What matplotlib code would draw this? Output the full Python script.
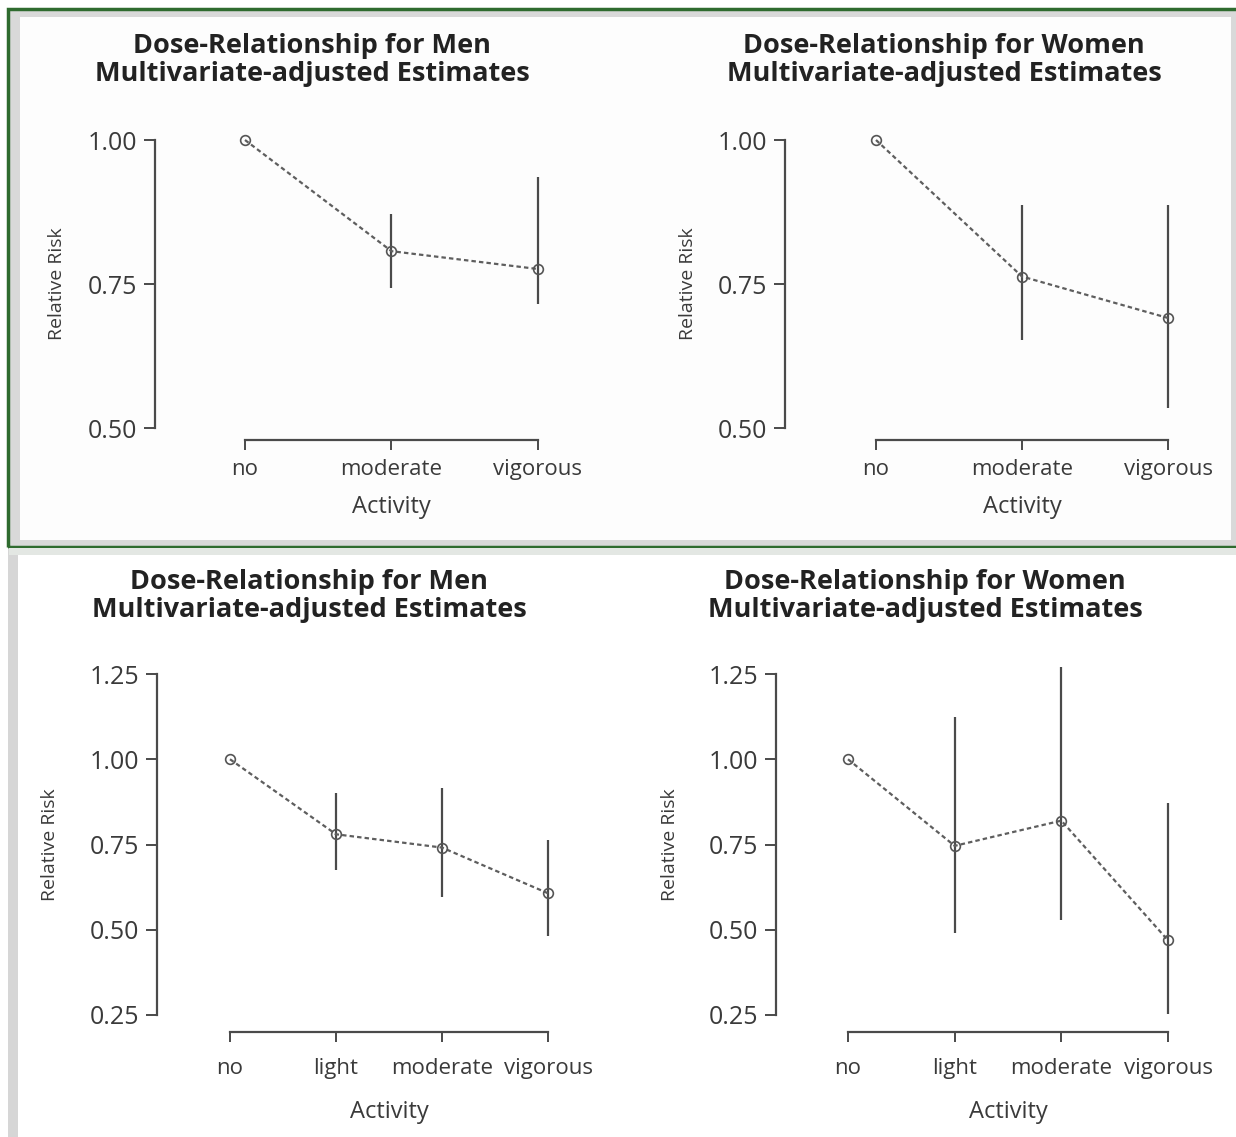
import numpy as np
import matplotlib.pyplot as plt
from matplotlib.patches import Rectangle

W, H = 1236, 1137

# data (relative risk with 95% CI)
levels_3 = ["no", "moderate", "vigorous"]
levels_4 = ["no", "light", "moderate", "vigorous"]

men3_rr = [1.00, 0.807, 0.776]
men3_lo = [1.00, 0.743, 0.716]
men3_hi = [1.00, 0.871, 0.936]

women3_rr = [1.00, 0.763, 0.691]
women3_lo = [1.00, 0.653, 0.534]
women3_hi = [1.00, 0.887, 0.887]

men4_rr = [1.00, 0.780, 0.741, 0.607]
men4_lo = [1.00, 0.674, 0.596, 0.482]
men4_hi = [1.00, 0.900, 0.917, 0.764]

women4_rr = [1.00, 0.746, 0.820, 0.469]
women4_lo = [1.00, 0.490, 0.529, 0.252]
women4_hi = [1.00, 1.125, 1.271, 0.872]

yticks_top = [0.50, 0.75, 1.00]
yticks_bot = [0.25, 0.50, 0.75, 1.00, 1.25]

FONT = ["Open Sans", "DejaVu Sans"]
LINE = "#4a4a4a"
TXT = "#3a3a3a"


def fx(px):
    return px / W


def fy(py):
    return 1 - py / H


def frame(x0, y0, x1, y1, **kw):
    fig.patches.append(Rectangle((fx(x0), fy(y1)), fx(x1) - fx(x0), fy(y0) - fy(y1),
                                 transform=fig.transFigure, zorder=-5, **kw))


def panel(levels, rr, lo, hi, yticks, x_first, x_last, y_top, y_bot, yaxis_x,
          xaxis_y, xlab_pad, ylab_x, title, title_x, title_y):
    n = len(levels)
    step = (x_last - x_first) / (n - 1)
    left_px = yaxis_x
    right_px = x_last + 40
    ax = fig.add_axes([fx(left_px), fy(y_bot), fx(right_px) - fx(left_px), fy(y_top) - fy(y_bot)])
    ax.set_facecolor("none")
    ax.set_xlim(-(x_first - left_px) / step, (n - 1) + (right_px - x_last) / step)
    ax.set_ylim(yticks[0], yticks[-1])
    x = np.arange(n)

    ax.vlines(x[1:], lo[1:], hi[1:], color=LINE, lw=1.6, clip_on=False)
    ax.plot(x, rr, color="#5e5e5e", lw=1.6, ls=(0, (2.0, 1.4)), marker="o", ms=7,
            mfc="none", mec="#555555", mew=1.2, clip_on=False)

    for s in ["top", "right"]:
        ax.spines[s].set_visible(False)
    ax.spines["left"].set_bounds(yticks[0], yticks[-1])
    ax.spines["bottom"].set_bounds(0, n - 1)
    ax.spines["bottom"].set_position(("outward", (xaxis_y - y_bot) * 0.72))
    for s in ["left", "bottom"]:
        ax.spines[s].set_color(LINE)
        ax.spines[s].set_linewidth(1.6)

    ax.set_yticks(yticks)
    ax.set_yticklabels(["%.2f" % v for v in yticks], fontfamily=FONT, fontsize=18, color=TXT)
    ax.set_xticks(x)
    ax.set_xticklabels(levels, fontfamily=FONT, fontsize=16, color=TXT)
    ax.tick_params(axis="y", direction="out", length=8, width=1.4, color=LINE, pad=5)
    ax.tick_params(axis="x", direction="out", length=7, width=1.4, color=LINE, pad=xlab_pad)

    fig.text(fx((x_first + x_last) / 2), fy(xaxis_y + (67 if n == 3 else 80)), "Activity",
             ha="center", va="center", fontfamily=FONT, fontsize=17, color=TXT)
    fig.text(fx(ylab_x), fy((y_top + y_bot) / 2), "Relative Risk", rotation=90,
             ha="center", va="center", fontfamily=FONT, fontsize=14, color=TXT)

    fig.text(fx(title_x), fy(title_y), title, ha="center", va="center", fontfamily=FONT,
             fontweight="bold", fontsize=19.5, color="#222222")
    fig.text(fx(title_x), fy(title_y + 28), "Multivariate-adjusted Estimates", ha="center",
             va="center", fontfamily=FONT, fontweight="bold", fontsize=19.5, color="#222222")
    return ax


fig = plt.figure(figsize=(W / 100, H / 100), dpi=100)
fig.patch.set_facecolor("white")

# framed backgrounds like the source figure
frame(8, 9, 1240, 547, facecolor="#d9d9d9", edgecolor="none")
frame(20, 17, 1231, 540, facecolor="#fdfdfd", edgecolor="none")
frame(8, 9, 1240, 547, facecolor="none", edgecolor="#2f6b2f", lw=2.5)
frame(8, 549, 18, 1137, facecolor="#d6d6d6", edgecolor="none")
frame(9, 548, 1236, 555, facecolor="#e3e7e3", edgecolor="none")

panel(levels_3, men3_rr, men3_lo, men3_hi, yticks_top, 245, 538, 140, 428, 155, 440, 7,
      57, "Dose-Relationship for Men", 312, 46)
panel(levels_3, women3_rr, women3_lo, women3_hi, yticks_top, 876, 1168, 140, 428, 785, 440, 7,
      688, "Dose-Relationship for Women", 944, 46)
panel(levels_4, men4_rr, men4_lo, men4_hi, yticks_bot, 230, 548, 674, 1015, 157, 1032, 12,
      50, "Dose-Relationship for Men", 309, 582)
panel(levels_4, women4_rr, women4_lo, women4_hi, yticks_bot, 848, 1168, 674, 1015, 776, 1032, 12,
      670, "Dose-Relationship for Women", 925, 582)

fig.savefig("out.png", dpi=100)
